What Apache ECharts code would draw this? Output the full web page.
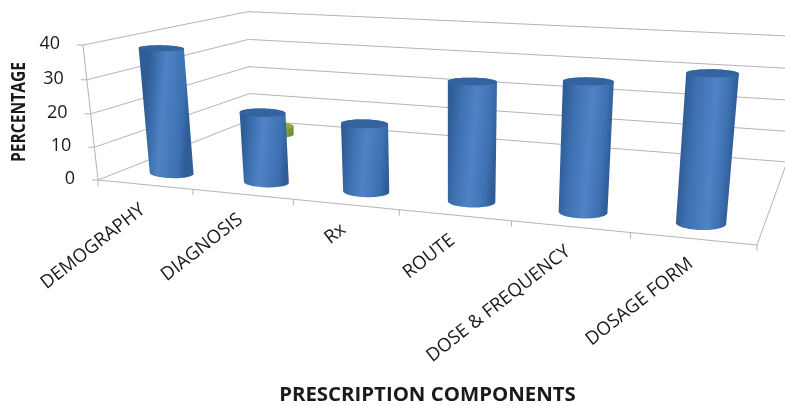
<!DOCTYPE html>
<html>
<head>
<meta charset="utf-8">
<style>html,body{margin:0;padding:0;background:#fff}#chart{width:785px;height:406px}</style>
<script src="https://cdn.jsdelivr.net/npm/echarts@6/dist/echarts.min.js"></script>
</head>
<body>
<div id="chart"></div>
<script>
const categories = ['DEMOGRAPHY', 'DIAGNOSIS', 'Rx', 'ROUTE', 'DOSE & FREQUENCY', 'DOSAGE FORM'];
const percentages = [38, 21, 20, 34, 36, 40];
const backRowValues = [3, null, null, null, null, null];
const valueTicks = [0, 10, 20, 30, 40];

// Box geometry on screen: u runs along the categories, w into the depth, v up the value axis.
const floorQuad = [[98, 180], [757, 245], [787, 162], [250, 120]];
const frontTopLeftY = 45, verticalVanish = [458, 3419];
const backWallDrift = [5, 2];
const BAR_DEPTH = 0.155, BACK_DEPTH = 0.8, BACK_ROW_SHIFT = 0.018;
const RADIUS_U = 0.04, RADIUS_W = 0.07, RADIUS_TAPER = 0.15, ELLIPSE_TILT = 0.25;
const LINE = '#b4b4b4', INK = '#1a1a1a', FONT = '"Open Sans", sans-serif';

// Projective camera: the floor homography, extended by a vertical vanishing point.
function makeCamera(q, topY, vp) {
  const [[x0, y0], [x1, y1], [x2, y2], [x3, y3]] = q;
  const dx1 = x1 - x2, dx2 = x3 - x2, sx = x0 - x1 + x2 - x3;
  const dy1 = y1 - y2, dy2 = y3 - y2, sy = y0 - y1 + y2 - y3;
  const den = dx1 * dy2 - dx2 * dy1;
  const g = (sx * dy2 - dx2 * sy) / den, h = (dx1 * sy - sx * dy1) / den;
  const a = x1 - x0 + g * x1, b = x3 - x0 + h * x3;
  const d = y1 - y0 + g * y1, e = y3 - y0 + h * y3;
  const i = (topY - y0) / (vp[1] - topY);
  const c = vp[0] * i, f = vp[1] * i;
  return (u, w, v) => {
    const k = g * u + h * w + i * v + 1;
    const drift = w * (1 - u) * v;
    return [
      (a * u + b * w + c * v + x0) / k + backWallDrift[0] * drift,
      (d * u + e * w + f * v + y0) / k + backWallDrift[1] * drift
    ];
  };
}
const project = makeCamera(floorQuad, frontTopLeftY, verticalVanish);

// Grid pixels from the axes, normalised into box coordinates.
function toBox(api, params, cat, val) {
  const cs = params.coordSys, p = api.coord([cat, val]);
  return [(p[0] - cs.x) / cs.width, (cs.y + cs.height - p[1]) / cs.height];
}
function line(a, b) {
  return { type: 'line', shape: { x1: a[0], y1: a[1], x2: b[0], y2: b[1] }, style: { stroke: LINE, lineWidth: 1 }, silent: true };
}
function ellipse(u, w, v, ru, rw) {
  const c = project(u, w, v), r = project(u + ru, w, v), l = project(u - ru, w, v);
  const near = project(u, w - rw, v), far = project(u, w + rw, v);
  const ax = (r[0] - l[0]) / 2, ay = (r[1] - l[1]) / 2 * ELLIPSE_TILT, b = Math.abs(near[1] - far[1]) / 2;
  const pts = [];
  for (let i = 0; i < 64; i++) {
    const t = i / 64 * Math.PI * 2;
    pts.push([c[0] + ax * Math.cos(t), c[1] + ay * Math.cos(t) + b * Math.sin(t)]);
  }
  return pts;
}
function hull(points) {
  const p = points.slice().sort((a, b) => a[0] - b[0] || a[1] - b[1]);
  const cross = (o, a, b) => (a[0] - o[0]) * (b[1] - o[1]) - (a[1] - o[1]) * (b[0] - o[0]);
  const lo = [], up = [];
  for (const q of p) { while (lo.length > 1 && cross(lo[lo.length - 2], lo[lo.length - 1], q) <= 0) lo.pop(); lo.push(q); }
  for (const q of p.slice().reverse()) { while (up.length > 1 && cross(up[up.length - 2], up[up.length - 1], q) <= 0) up.pop(); up.push(q); }
  return lo.slice(0, -1).concat(up.slice(0, -1));
}
function cylinder(u, w, v, ramp, capColor) {
  const ru = RADIUS_U * (1 - RADIUS_TAPER * u);
  const bottom = ellipse(u, w, 0, ru, RADIUS_W), top = ellipse(u, w, v, ru, RADIUS_W);
  const midL = project(u - ru, w, v / 2), midR = project(u + ru, w, v / 2);
  const peak = 0.38 + 0.24 * u;
  return {
    type: 'group',
    children: [
      {
        type: 'polygon', shape: { points: hull(bottom.concat(top)) },
        style: {
          fill: {
            type: 'linear', global: true, x: midL[0], y: midL[1], x2: midR[0], y2: midR[1],
            colorStops: [
              { offset: 0, color: ramp[0] }, { offset: 0.2, color: ramp[1] },
              { offset: peak, color: ramp[2] }, { offset: 0.85, color: ramp[1] }, { offset: 1, color: ramp[0] }
            ]
          }
        }
      },
      { type: 'polygon', shape: { points: top }, style: { fill: capColor } }
    ]
  };
}

const blueRamp = ['#2f5d97', '#3d70b0', '#4e83c6'];
const greenRamp = ['#6f8a35', '#7f9a3a', '#a3c24f'];

const chart = echarts.init(document.getElementById('chart'), null, { renderer: 'canvas' });
chart.setOption({
  animation: false,
  backgroundColor: '#ffffff',
  grid: { left: 98, top: 45, width: 659, height: 135 },
  xAxis: {
    type: 'category', data: categories, boundaryGap: true,
    axisLine: { show: false }, axisTick: { show: false }, axisLabel: { show: false },
    name: 'PRESCRIPTION COMPONENTS', nameLocation: 'middle', nameGap: 221,
    nameTextStyle: { fontFamily: FONT, fontWeight: 'bold', fontSize: 20.4, color: INK }
  },
  yAxis: {
    type: 'value', min: 0, max: 40, interval: 10,
    axisLine: { show: false }, axisTick: { show: false }, axisLabel: { show: false }, splitLine: { show: false }
  },
  series: [
    {
      // Walls: one gridline per value tick, running along the left wall and the back wall.
      type: 'custom', name: 'walls', data: valueTicks.map(t => [0, t]), z: 1, silent: true,
      renderItem(params, api) {
        const tick = api.value(1);
        const v = toBox(api, params, 0, tick)[1];
        const front = project(0, 0, v);
        const children = [
          line(front, project(0, 1, v)),
          line(project(0, 1, v), project(1, 1, v)),
          line(front, [front[0] - 6, front[1]]),
          {
            type: 'text', x: front[0] - 23, y: front[1] - 1,
            style: { text: String(tick), align: 'right', verticalAlign: 'middle', font: '18px ' + FONT, fill: INK }
          }
        ];
        return { type: 'group', children };
      }
    },
    {
      // Floor edges, the vertical value axis and its title.
      type: 'custom', name: 'frame', data: [[0, 0]], z: 1, silent: true,
      renderItem() {
        return {
          type: 'group',
          children: [
            line(project(0, 0, 0), project(1, 0, 0)),
            line(project(1, 0, 0), project(1, 1, 0)),
            line(project(0, 0, 0), project(0, 0, 1)),
            {
              type: 'text', x: 19, y: 112, rotation: Math.PI / 2, scaleX: 0.78, scaleY: 1,
              style: { text: 'PERCENTAGE', align: 'center', verticalAlign: 'middle', font: 'bold 20px ' + FONT, fill: INK }
            }
          ]
        };
      }
    },
    {
      // Category ticks under the front edge, with slanted labels.
      type: 'custom', name: 'categories', data: categories.map((c, i) => [i, 0]), z: 2, silent: true,
      renderItem(params, api) {
        const i = api.value(0);
        const uc = toBox(api, params, i, 0)[0], step = 1 / categories.length;
        const edge = project(uc + step / 2, 0, 0), start = project(uc - step / 2, 0, 0);
        const mid = project(uc, 0, 0);
        return {
          type: 'group',
          children: [
            line(edge, [edge[0], edge[1] + 6]),
            i === 0 ? line(start, [start[0], start[1] + 6]) : { type: 'group' },
            {
              type: 'text', x: mid[0] - 2, y: mid[1] + 23, rotation: 38 * Math.PI / 180,
              style: { text: categories[i], align: 'right', verticalAlign: 'middle', font: '18.5px ' + FONT, fill: INK }
            }
          ]
        };
      }
    },
    {
      type: 'custom', name: 'back row', data: backRowValues.map((y, i) => [i, y]), z: 3, silent: true,
      renderItem(params, api) {
        const val = api.value(1);
        if (isNaN(val)) return null;
        const b = toBox(api, params, api.value(0), val);
        return cylinder(b[0] + BACK_ROW_SHIFT, BACK_DEPTH, b[1], greenRamp, '#8faa42');
      }
    },
    {
      type: 'custom', name: 'percentage', data: percentages.map((y, i) => [i, y]), z: 4, silent: true,
      renderItem(params, api) {
        const b = toBox(api, params, api.value(0), api.value(1));
        return cylinder(b[0], BAR_DEPTH, b[1], blueRamp, '#34649f');
      }
    }
  ]
});
</script>
</body>
</html>
